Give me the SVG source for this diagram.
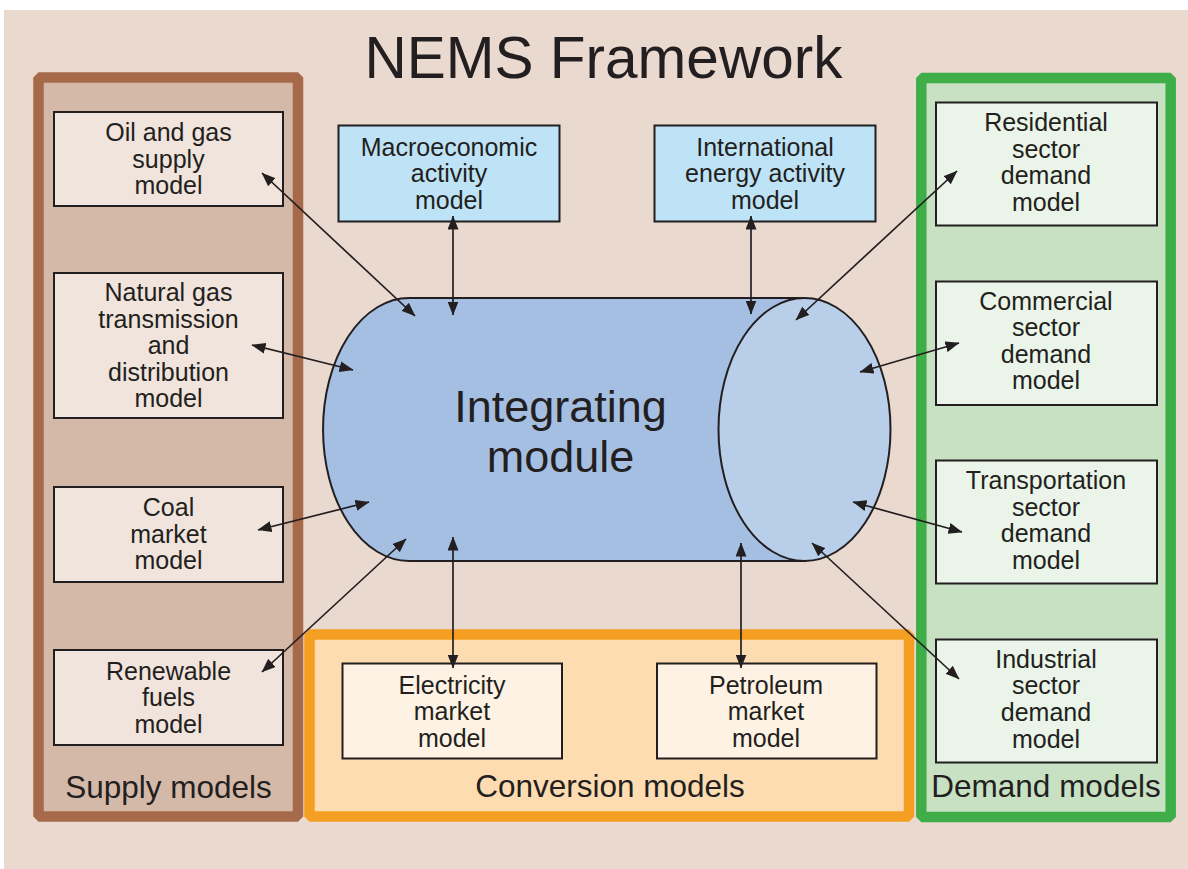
<svg xmlns="http://www.w3.org/2000/svg" width="1188" height="869" viewBox="0 0 1188 869">
<defs>
<marker id="ah" viewBox="0 0 14 11" markerUnits="userSpaceOnUse" markerWidth="14" markerHeight="11" refX="13.5" refY="5.5" orient="auto-start-reverse">
<path d="M0,0 L14,5.5 L0,11 z" fill="#231F20"/>
</marker>
<style>
text{font-family:"Liberation Sans",Arial,sans-serif;fill:#231F20;text-anchor:middle}
.t{font-size:25px}
.p{font-size:31.5px}
.box{stroke:#231F20;stroke-width:2}
.sb{fill:#F0E4DC}
.cb{fill:#FDF2E3}
.db{fill:#EAF4E8}
.mb{fill:#BEE3F6}
.panel{stroke-width:10.5;stroke-linejoin:bevel}
.c line{stroke:#231F20;stroke-width:1.7;marker-start:url(#ah);marker-end:url(#ah)}
</style>
</defs>
<rect x="0" y="0" width="1188" height="869" fill="#FFFFFF"/>
<rect x="4" y="10" width="1184" height="859" fill="#EAD9CF"/>
<text x="603.5" y="78" style="font-size:58.5px">NEMS Framework</text>

<g id="supply-panel">
<rect class="panel" x="38.5" y="77.5" width="259.5" height="739" fill="#D4B9A8" stroke="#A66A4B"/>
<text class="p" x="168.5" y="798">Supply models</text>
</g>
<g id="conversion-panel">
<rect class="panel" x="309.5" y="634.5" width="599.5" height="182" fill="#FDDCB1" stroke="#F59F22"/>
<text class="p" x="610" y="797">Conversion models</text>
</g>
<g id="demand-panel">
<rect class="panel" x="921.3" y="78" width="249.4" height="739" fill="#C8E1C3" stroke="#3FAE49"/>
<text class="p" x="1046" y="797">Demand models</text>
</g>

<g id="oil-gas">
<rect class="box sb" x="54" y="112" width="229" height="94"/>
<text class="t" x="168.5" y="141">Oil and gas</text>
<text class="t" x="168.5" y="167.5">supply</text>
<text class="t" x="168.5" y="194">model</text>
</g>
<g id="natural-gas">
<rect class="box sb" x="54" y="273" width="229" height="145"/>
<text class="t" x="168.5" y="301">Natural gas</text>
<text class="t" x="168.5" y="327.5">transmission</text>
<text class="t" x="168.5" y="354">and</text>
<text class="t" x="168.5" y="380.5">distribution</text>
<text class="t" x="168.5" y="407">model</text>
</g>
<g id="coal">
<rect class="box sb" x="54" y="487" width="229" height="95"/>
<text class="t" x="168.5" y="516">Coal</text>
<text class="t" x="168.5" y="542.5">market</text>
<text class="t" x="168.5" y="569">model</text>
</g>
<g id="renewable">
<rect class="box sb" x="54" y="650" width="229" height="95"/>
<text class="t" x="168.5" y="679.5">Renewable</text>
<text class="t" x="168.5" y="706">fuels</text>
<text class="t" x="168.5" y="732.5">model</text>
</g>

<g id="macro">
<rect class="box mb" x="338.5" y="125.5" width="221" height="96"/>
<text class="t" x="449" y="155.5">Macroeconomic</text>
<text class="t" x="449" y="182">activity</text>
<text class="t" x="449" y="208.5">model</text>
</g>
<g id="international">
<rect class="box mb" x="654.5" y="125.5" width="221" height="96"/>
<text class="t" x="765" y="155.5">International</text>
<text class="t" x="765" y="182">energy activity</text>
<text class="t" x="765" y="208.5">model</text>
</g>

<g id="residential">
<rect class="box db" x="936" y="102.5" width="221" height="123"/>
<text class="t" x="1046" y="131">Residential</text>
<text class="t" x="1046" y="157.5">sector</text>
<text class="t" x="1046" y="184">demand</text>
<text class="t" x="1046" y="210.5">model</text>
</g>
<g id="commercial">
<rect class="box db" x="936" y="281.5" width="221" height="123.5"/>
<text class="t" x="1046" y="309.5">Commercial</text>
<text class="t" x="1046" y="336">sector</text>
<text class="t" x="1046" y="362.5">demand</text>
<text class="t" x="1046" y="389">model</text>
</g>
<g id="transportation">
<rect class="box db" x="936" y="460.5" width="221" height="123"/>
<text class="t" x="1046" y="489">Transportation</text>
<text class="t" x="1046" y="515.7">sector</text>
<text class="t" x="1046" y="542.3">demand</text>
<text class="t" x="1046" y="569">model</text>
</g>
<g id="industrial">
<rect class="box db" x="936" y="639.5" width="221" height="123"/>
<text class="t" x="1046" y="667.5">Industrial</text>
<text class="t" x="1046" y="694.3">sector</text>
<text class="t" x="1046" y="721">demand</text>
<text class="t" x="1046" y="747.7">model</text>
</g>

<g id="electricity">
<rect class="box cb" x="342.5" y="663.5" width="219.5" height="95"/>
<text class="t" x="452" y="693.5">Electricity</text>
<text class="t" x="452" y="720">market</text>
<text class="t" x="452" y="746.5">model</text>
</g>
<g id="petroleum">
<rect class="box cb" x="657" y="663.5" width="219.5" height="95"/>
<text class="t" x="766" y="693.5">Petroleum</text>
<text class="t" x="766" y="720">market</text>
<text class="t" x="766" y="746.5">model</text>
</g>

<g id="integrating">
<path d="M409,298 L805,298 L805,561 L409,561 A86 131.5 0 0 1 409,298 Z" fill="#A5BFE3" stroke="#231F20" stroke-width="2"/>
<ellipse cx="804.5" cy="429.5" rx="86" ry="131.5" fill="#B9CEE9" stroke="#231F20" stroke-width="2"/>
<text x="560.5" y="422" style="font-size:45px">Integrating</text>
<text x="560.5" y="472" style="font-size:45px">module</text>
</g>

<g id="connectors" class="c">
<line x1="262" y1="173" x2="415" y2="316"/>
<line x1="453" y1="216" x2="453" y2="315"/>
<line x1="751" y1="216" x2="751" y2="314"/>
<line x1="957" y1="171" x2="796" y2="320"/>
<line x1="252" y1="345" x2="353" y2="370"/>
<line x1="860" y1="372" x2="959" y2="343"/>
<line x1="258" y1="530" x2="369" y2="502"/>
<line x1="262" y1="672" x2="406" y2="539"/>
<line x1="453" y1="537" x2="453" y2="668"/>
<line x1="741" y1="543" x2="741" y2="668"/>
<line x1="853" y1="502" x2="962" y2="532"/>
<line x1="812" y1="543" x2="959" y2="679"/>
</g>
</svg>
